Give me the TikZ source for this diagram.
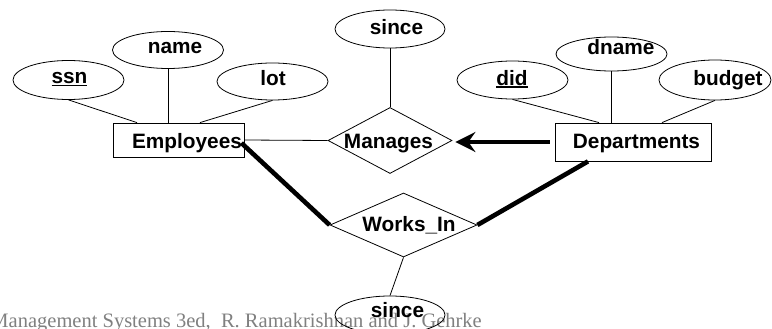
\documentclass[tikz,border=0pt]{standalone}
\usepackage{fontspec}
\setmainfont{Liberation Serif}
\newfontfamily\erfont{Liberation Sans}
\usetikzlibrary{shapes.geometric,arrows.meta,calc}
\newcommand\keyul[1]{\setbox0\hbox{#1}\rlap{\copy0}\rule[-2.8pt]{\wd0}{1.6pt}}
\begin{document}
\begin{tikzpicture}[x=1pt,y=-1pt,
  attr/.style={ellipse,draw,line width=0.8pt,inner sep=0pt},
  ent/.style={rectangle,draw,line width=0.8pt,inner sep=0pt},
  rel/.style={diamond,draw,line width=0.8pt,inner sep=0pt},
  lbl/.style={anchor=base,inner sep=0pt,font=\erfont\bfseries\fontsize{20.8}{24}\selectfont},
  link/.style={line width=0.8pt},
  totalp/.style={line width=4.6pt},
]
\useasboundingbox (0,0) rectangle (772,329);

% footer
\node[anchor=base east,inner sep=0pt,text=black!50,font=\fontsize{20.5}{24}\selectfont] (foot) at (482,327) {Management Systems 3ed,\ \ R. Ramakrishnan and J. Gehrke};

% attributes
\node[attr,minimum width=111pt,minimum height=39pt] (ssn) at (68.5,80) {};
\node[attr,minimum width=111pt,minimum height=37pt] (name) at (168,50) {};
\node[attr,minimum width=111pt,minimum height=37pt] (lot) at (272.5,81.5) {};
\node[attr,minimum width=110pt,minimum height=38pt] (sinceA) at (390,29) {};
\node[attr,minimum width=111pt,minimum height=38pt] (did) at (512.5,80) {};
\node[attr,minimum width=111pt,minimum height=34pt] (dname) at (611.5,54) {};
\node[attr,minimum width=112pt,minimum height=40pt] (budget) at (715,80) {};
\node[attr,minimum width=110pt,minimum height=38pt] (sinceB) at (390,315) {};

% entities and relationships
\node[ent,minimum width=131pt,minimum height=34pt] (emp) at (178.5,140) {};
\node[ent,minimum width=156pt,minimum height=38pt] (dept) at (633,142) {};
\node[rel,minimum width=124pt,minimum height=66pt] (man) at (390,140.5) {};
\node[rel,minimum width=147pt,minimum height=64pt] (works) at (403.5,225) {};

% labels
\node[lbl] (ssnT) at (69.5,83.5) {\keyul{ssn}};
\node[lbl] (nameT) at (175,53.5) {name};
\node[lbl] (lotT) at (273,85) {lot};
\node[lbl] (sinceAT) at (396.5,34.5) {since};
\node[lbl] (didT) at (512,85) {\keyul{did}};
\node[lbl] (dnameT) at (621,55) {dname};
\node[lbl] (budgetT) at (728,85) {budget};
\node[lbl] (sinceBT) at (397.5,317.5) {since};
\node[lbl] (empT) at (187,148) {Employees};
\node[lbl] (deptT) at (636.5,148.5) {Departments};
\node[lbl] (manT) at (388.5,148) {Manages};
\node[lbl] (worksT) at (409,231.5) {Works\_In};

% connectors
\draw[link] (ssn.south) -- ([xshift=-41.5pt]emp.north);
\draw[link] (name.south) -- (name.south |- emp.north);
\draw[link] (lot.south) -- ([xshift=21.5pt]emp.north);
\draw[link] (sinceA.south) -- (man.north);
\draw[link] (did.south) -- ([xshift=-34pt]dept.north);
\draw[link] (dname.south) -- (dname.south |- dept.north);
\draw[link] (budget.south) -- ([xshift=29pt]dept.north);
\draw[link] (emp.east) -- (man.west);
\draw[link] (works.south) -- (sinceB.north);
\draw[totalp] ([xshift=-3pt,yshift=-3pt]emp.east) -- (works.west);
\draw[totalp] ([xshift=-45pt]dept.south) -- (works.east);
\draw[line width=4pt,-{Stealth[length=20pt,width=20pt,inset=7pt]},shorten <=5pt,shorten >=3pt] (dept.west) -- (dept.west -| man.east);
\end{tikzpicture}
\end{document}
